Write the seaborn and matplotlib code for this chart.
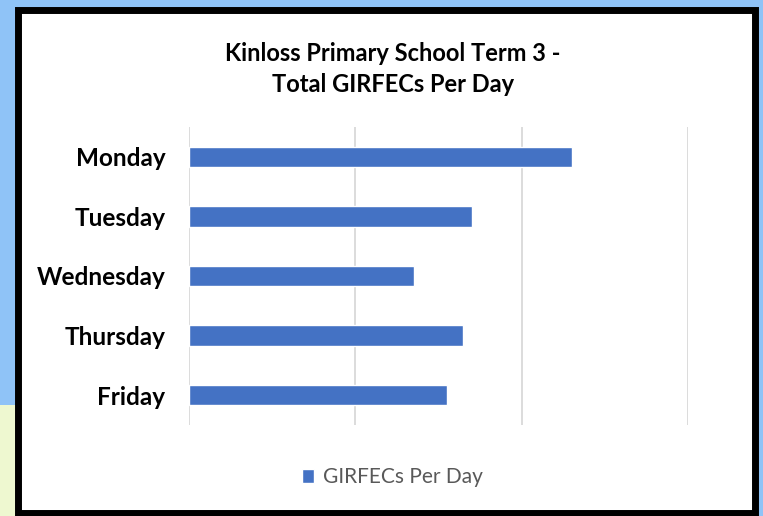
import pandas as pd
import matplotlib.pyplot as plt
import seaborn as sns
from matplotlib.patches import Rectangle

# values (gridlines at 0, 20, 40, 60)
days = ['Monday', 'Tuesday', 'Wednesday', 'Thursday', 'Friday']
girfecs = [46, 34, 27, 33, 31]
series_name = 'GIRFECs Per Day'

df = pd.DataFrame({'Day': days, 'GIRFECs': girfecs})

sns.set_style('white')
plt.rcParams['font.family'] = ['Lato', 'DejaVu Sans']

fig = plt.figure(figsize=(7.63, 5.16), dpi=100)
fig.patch.set_facecolor('#8fc3f7')

# slide background bits and the white chart box with black frame
fig.patches.append(Rectangle((0, 0), 0.03, 0.215, transform=fig.transFigure,
                             facecolor='#eef8d0', edgecolor='none', zorder=0))
fig.patches.append(Rectangle((0.023, 0.006), 0.966, 0.975, transform=fig.transFigure,
                             facecolor='white', edgecolor='black', linewidth=5, zorder=1))

ax = fig.add_axes([0.2477, 0.1764, 0.654, 0.5775])
ax.set_zorder(3)
ax.set_facecolor('none')
sns.barplot(data=df, x='GIRFECs', y='Day', color='#4472C4', width=0.34,
            saturation=1, ax=ax, label=series_name)

ax.set_xlim(0, 60)
ax.set_xticks([0, 20, 40, 60])
ax.set_xticklabels([])
ax.tick_params(axis='both', length=0)
ax.grid(axis='x', color='#D9D9D9', linewidth=1.3)
ax.set_axisbelow(True)
for s in ax.spines.values():
    s.set_visible(False)
ax.set_xlabel('')
ax.set_ylabel('')
for lab in ax.get_yticklabels():
    lab.set_fontweight('bold')
    lab.set_fontsize(17.5)
    lab.set_color('black')
ax.tick_params(axis='y', pad=17)

fig.text(0.515, 0.866, 'Kinloss Primary School Term 3 -\nTotal GIRFECs Per Day',
         ha='center', va='center', fontsize=17, fontweight='bold',
         color='black', linespacing=1.4, zorder=4)

leg = ax.legend(loc='center', bbox_to_anchor=(0.514, 0.075),
                bbox_transform=fig.transFigure, frameon=False,
                fontsize=15, handlelength=0.6, handleheight=0.6,
                handletextpad=0.4)
for t in leg.get_texts():
    t.set_color('#595959')

fig.savefig('out.png', dpi=100, facecolor=fig.get_facecolor())
